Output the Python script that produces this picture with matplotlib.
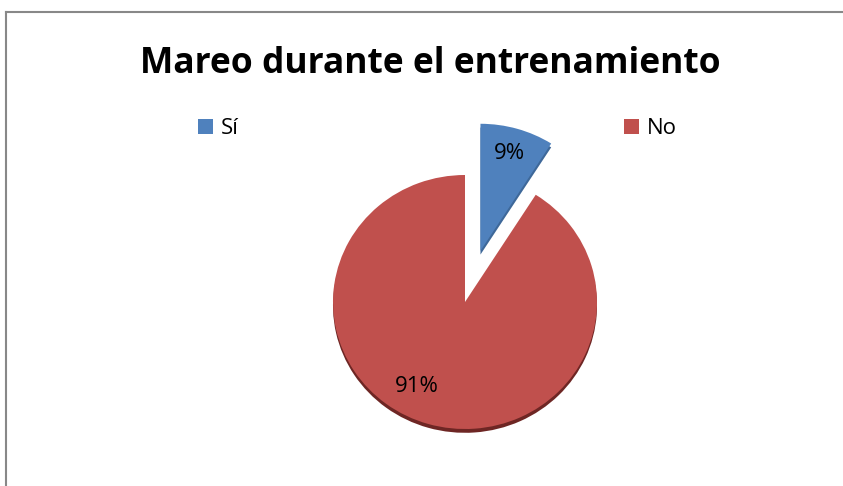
import numpy as np
import matplotlib.pyplot as plt
from matplotlib.lines import Line2D

labels = ["Sí", "No"]
values = [9, 91]
colors = ["#4F81BD", "#C0504D"]
shadow_colors = ["#3e6899", "#6e2624"]
explode = [0.42, 0.0]

W, H = 843, 486
fig = plt.figure(figsize=(W / 100, H / 100), dpi=100)
ax = fig.add_axes([0, 0, 1, 1])

# pie centre in pixels and radii (slightly squashed for the tilted look)
cx, cy = 465, 302
rx, ry = 132, 127

# dark rim underneath, peeking out at the bottom
ax.pie(values, explode=explode, startangle=90, counterclock=False,
       colors=shadow_colors, center=(0, -0.03), radius=1.0,
       wedgeprops=dict(linewidth=0, zorder=1), frame=True)

wedges, texts, autotexts = ax.pie(
    values, explode=explode, startangle=90, counterclock=False,
    colors=colors, radius=1.0, autopct="%1.0f%%", pctdistance=0.8,
    wedgeprops=dict(linewidth=0, zorder=2),
    textprops=dict(fontsize=16, color="#000000", family="Open Sans"),
    frame=True)
ax.set_aspect("auto")
ax.set_xlim(-cx / rx, (W - cx) / rx)
ax.set_ylim(-(H - cy) / ry, cy / ry)
ax.axis("off")

# move the big label a bit further round, as the spreadsheet does
ang = np.deg2rad(-119)
autotexts[1].set_position((0.76 * np.cos(ang), 0.76 * np.sin(ang)))
for t in autotexts:
    t.set_zorder(5)

fig.text(430 / W, 1 - 73 / H, "Mareo durante el entrenamiento",
         ha="center", va="baseline", fontsize=25.5, fontweight="bold",
         family="Open Sans")

# one legend entry on each side of the pie
for w, lab, x0 in zip(wedges, labels, [198, 624]):
    fig.legend([w], [lab], loc="center left",
               bbox_to_anchor=(x0 / W, 1 - 128.5 / H), frameon=False,
               borderpad=0, borderaxespad=0,
               handlelength=0.68, handleheight=0.68, handletextpad=0.35,
               prop=dict(family="Open Sans", size=16))

# chart area border (only top and left edges fall inside the image)
fig.add_artist(Line2D([6 / W, 1], [1 - 12 / H, 1 - 12 / H],
                      color="#888888", linewidth=1.5, transform=fig.transFigure))
fig.add_artist(Line2D([6 / W, 6 / W], [0, 1 - 12 / H],
                      color="#888888", linewidth=1.5, transform=fig.transFigure))

fig.savefig("out.png", dpi=100, facecolor="white")
